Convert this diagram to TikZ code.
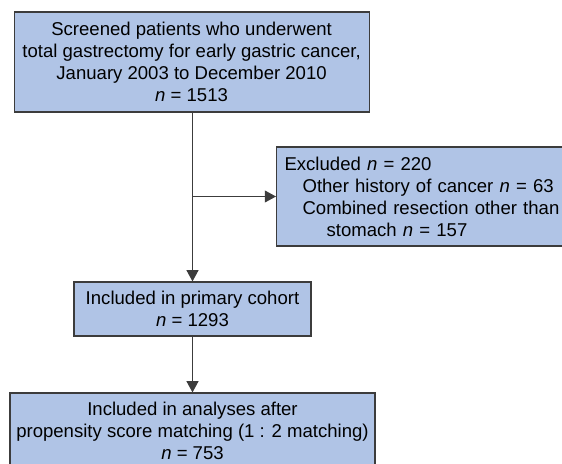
\documentclass[tikz,border=0pt]{standalone}
\usepackage{fontspec}
\setmainfont{Liberation Sans}
\usepackage{tikz}
\usetikzlibrary{arrows.meta,calc,positioning}

\definecolor{boxblue}{RGB}{176,196,230}
\definecolor{edgegray}{RGB}{60,60,60}

\tikzset{
    flowbox/.style={draw=edgegray, fill=boxblue, line width=0.8pt, align=center,
        inner sep=0pt, font=\fontsize{13.2}{15.6}\selectfont},
    flowarrow/.style={-{Triangle[length=8pt,width=8.5pt]}, line width=0.8pt, draw=edgegray}
}

\begin{document}
\begin{tikzpicture}
    \useasboundingbox (0,0) rectangle (14.05,11.6);
    \clip (0,0) rectangle (14.05,11.6);

    \node[flowbox, minimum width=8.875cm, minimum height=2.5cm] (screened) at (4.79,10.05) {
    Screened patients who underwent\\
    total gastrectomy for early gastric cancer,\\
    January 2003 to December 2010\\
    \textit{n} = 1513
    };
    \node[flowbox, anchor=west, align=left, text width=7.2cm, inner xsep=0.2cm,
        minimum height=2.475cm] (excluded) at (6.9,6.6875) {
    Excluded \textit{n} = 220\\
    \hspace*{0.45cm}Other history of cancer \textit{n} = 63\\
    \hspace*{0.45cm}Combined resection other than\\
    \hspace*{1.05cm}stomach \textit{n} = 157
    };
    \node[flowbox, minimum width=5.925cm, minimum height=1.35cm] (primary) at (4.8125,3.875) {
    Included in primary cohort\\
    \textit{n} = 1293
    };
    \node[flowbox, minimum width=9.125cm, minimum height=1.9cm] (matched) at (4.8125,0.825) {
    Included in analyses after\\
    propensity score matching (1 : 2 matching)\\
    \textit{n} = 753
    };

    \coordinate (branch) at (excluded.west -| primary.north);
    \draw[line width=0.8pt, draw=edgegray] (screened.south -| primary.north) -- (branch);
    \draw[flowarrow] (branch) -- (primary.north);
    \draw[flowarrow] (branch) -- (excluded.west);
    \draw[flowarrow] (primary) -- (matched);
\end{tikzpicture}
\end{document}
